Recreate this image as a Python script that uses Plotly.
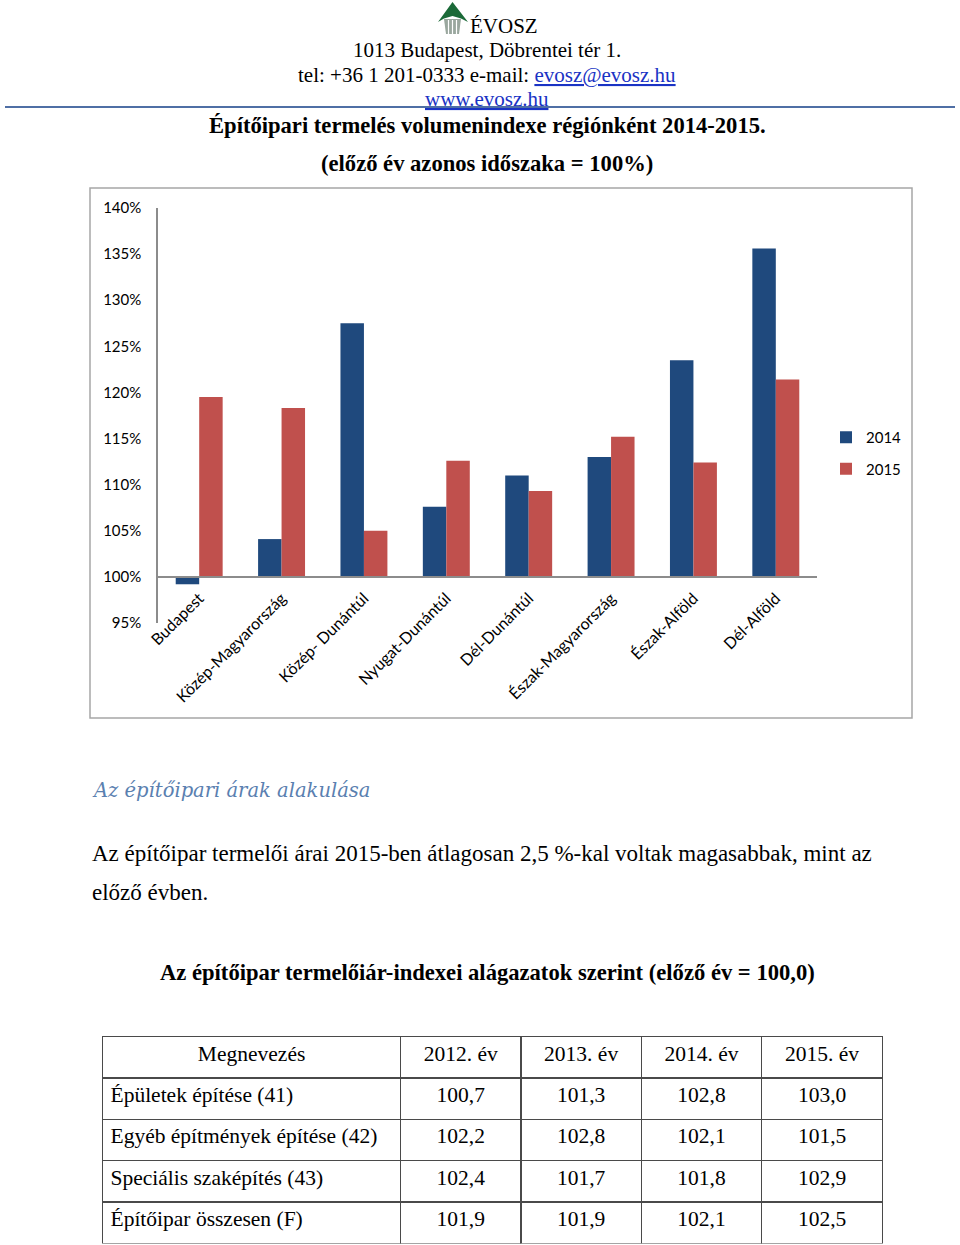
import plotly.graph_objects as go

W, H = 960, 1245

# ---------------- data ----------------
regions = ["Budapest", "Közép-Magyarország", "Közép- Dunántúl", "Nyugat-Dunántúl",
           "Dél-Dunántúl", "Észak-Magyarország", "Észak-Alföld", "Dél-Alföld"]
vol_2014 = [99.2, 104.1, 127.5, 107.6, 111.0, 113.0, 123.5, 135.6]
vol_2015 = [119.5, 118.3, 105.0, 112.6, 109.3, 115.2, 112.4, 121.4]
y_ticks = [95, 100, 105, 110, 115, 120, 125, 130, 135, 140]
series_names = ["2014", "2015"]
base_value = 100

table_header = ["Megnevezés", "2012. év", "2013. év", "2014. év", "2015. év"]
table_names = ["Épületek építése (41)", "Egyéb építmények építése (42)",
               "Speciális szaképítés (43)", "Építőipar összesen (F)"]
idx_2012 = [100.7, 102.2, 102.4, 101.9]
idx_2013 = [101.3, 102.8, 101.7, 101.9]
idx_2014 = [102.8, 102.1, 101.8, 102.1]
idx_2015 = [103.0, 101.5, 102.9, 102.5]

# ---------------- helpers ----------------
def px(x):
    return x / W

def py(y):
    return 1 - y / H

def hu(v):
    return f"{v:.1f}".replace(".", ",")

BLUE = "#1F497D"
RED = "#C0504D"
SERIF = "Liberation Serif"
SANS = "Lato"

fig = go.Figure()

fig.add_trace(go.Bar(
    x=regions, y=[v - base_value for v in vol_2014], base=base_value,
    name=series_names[0], marker=dict(color=BLUE, line=dict(width=0)),
    legendgroup="a"))
fig.add_trace(go.Bar(
    x=regions, y=[v - base_value for v in vol_2015], base=base_value,
    name=series_names[1], marker=dict(color=RED, line=dict(width=0)),
    legendgroup="b"))

fig.add_trace(go.Table(
    domain=dict(x=[px(102.5), px(883)], y=[py(1244), py(1036.5)]),
    columnwidth=[298.5, 120.5, 120.5, 120.5, 121],
    header=dict(values=table_header, height=41.4,
                align=["center"] * 5,
                line=dict(color="#4a4a4a", width=1.5),
                fill=dict(color="white"),
                font=dict(family=SERIF, size=21.5, color="black")),
    cells=dict(values=[table_names,
                       [hu(v) for v in idx_2012],
                       [hu(v) for v in idx_2013],
                       [hu(v) for v in idx_2014],
                       [hu(v) for v in idx_2015]],
               height=41.4,
               align=["left", "center", "center", "center", "center"],
               line=dict(color="#4a4a4a", width=1.5),
               fill=dict(color="white"),
               font=dict(family=SERIF, size=21.5, color="black"))))

fig.update_layout(
    width=W, height=H, template="none",
    paper_bgcolor="white", plot_bgcolor="white",
    margin=dict(l=0, r=0, t=0, b=0),
    barmode="group", bargap=0.43, bargroupgap=0,
    showlegend=True,
    legend=dict(x=px(826), y=py(421), xanchor="left", yanchor="top",
                font=dict(family=SANS, size=15, color="black"),
                tracegroupgap=9, itemwidth=30, bgcolor="rgba(0,0,0,0)"),
    xaxis=dict(domain=[px(158), px(817)], anchor="free", position=py(577),
               type="category", showline=True, linecolor="#8c8c8c", linewidth=1.5,
               showgrid=False, ticks="", tickangle=-45, ticklabelstandoff=5,
               tickfont=dict(family=SANS, size=16, color="black"), zeroline=False),
    yaxis=dict(domain=[py(623), py(208)], range=[95, 140],
               tickvals=y_ticks, ticktext=[f"{v}%" for v in y_ticks],
               showline=True, linecolor="#8c8c8c", linewidth=1.5,
               showgrid=False, zeroline=False, ticks="", ticklabelstandoff=12,
               tickfont=dict(family=SANS, size=15, color="black")),
)

shapes = []
# chart frame
shapes.append(dict(type="rect", xref="paper", yref="paper",
                   x0=px(90), x1=px(912), y0=py(718), y1=py(188),
                   line=dict(color="#a6a6a6", width=1.5)))
# header rule
shapes.append(dict(type="line", xref="paper", yref="paper",
                   x0=px(5), x1=px(955), y0=py(107), y1=py(107),
                   line=dict(color="#4F6FA5", width=2)))
# logo: tree
def path(points):
    return "M " + " L ".join(f"{px(x):.5f},{py(y):.5f}" for x, y in points) + " Z"

shapes.append(dict(type="path", xref="paper", yref="paper",
                   path=path([(444, 19), (461, 19), (459, 34), (446, 34)]),
                   fillcolor="#9aa79e", line=dict(width=0)))
for xs in (448.5, 452.5, 456.5):
    shapes.append(dict(type="line", xref="paper", yref="paper",
                       x0=px(xs), x1=px(xs), y0=py(20), y1=py(34),
                       line=dict(color="white", width=1.2)))
shapes.append(dict(type="path", xref="paper", yref="paper",
                   path=path([(438, 22), (452.5, 2), (468, 22), (461, 18.5),
                              (452.5, 16), (444, 18.5)]),
                   fillcolor="#1b6a38", line=dict(width=0)))
fig.update_layout(shapes=shapes)

ann = []
def text(x, y, s, size, family=SERIF, color="black", xanchor="center"):
    ann.append(dict(x=px(x), y=py(y), xref="paper", yref="paper", text=s,
                    showarrow=False, xanchor=xanchor, yanchor="middle",
                    font=dict(family=family, size=size, color=color)))

LINK = "#1a33c4"
text(468, 26, "ÉVOSZ", 21, xanchor="left")
text(487, 50, "1013 Budapest, Döbrentei tér 1.", 21)
text(487, 75, f"tel: +36 1 201-0333 e-mail: <span style='color:{LINK}'><u>evosz@evosz.hu</u></span>", 21)
text(487, 99, f"<span style='color:{LINK}'><u>www.evosz.hu</u></span>", 21)
text(487, 125, "<b>Építőipari termelés volumenindexe régiónként 2014-2015.</b>", 22.6)
text(487, 163, "<b>(előző év azonos időszaka = 100%)</b>", 22.6)
text(90, 790, "<i>Az építőipari árak alakulása</i>", 19.5, family="DejaVu Serif",
     color="#5a80b0", xanchor="left")
text(90, 853, "Az építőipar termelői árai 2015-ben átlagosan 2,5 %-kal voltak magasabbak, mint az",
     23, xanchor="left")
text(90, 892, "előző évben.", 23, xanchor="left")
text(487, 972, "<b>Az építőipar termelőiár-indexei alágazatok szerint (előző év = 100,0)</b>", 22.6)
fig.update_layout(annotations=ann)

fig.write_html("out.html", config={"displayModeBar": False},
               post_script="document.body.style.margin='0';document.body.style.overflow='hidden';")
